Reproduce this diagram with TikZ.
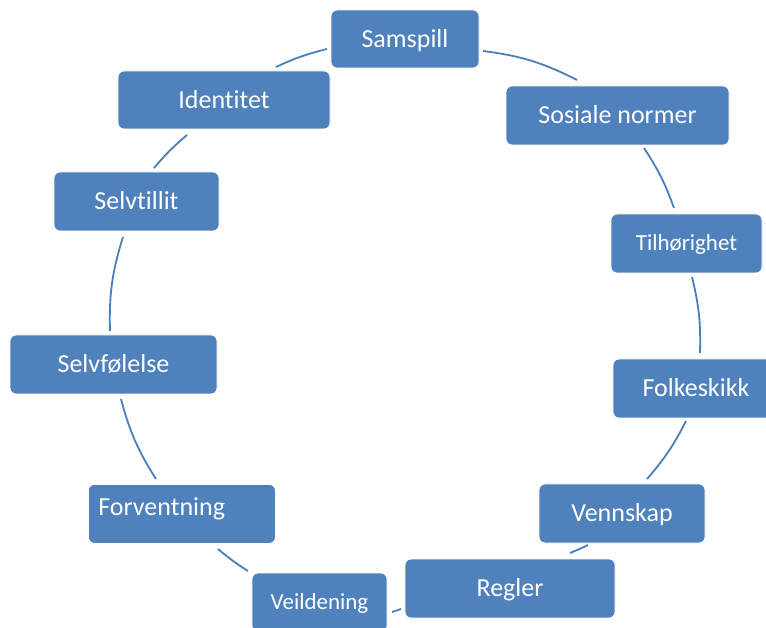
\documentclass[tikz,border=0pt]{standalone}
\usepackage{fontspec}
\setmainfont{Carlito}[Ligatures=CommonOff]
\definecolor{boxblue}{HTML}{4F81BD}
\definecolor{arcblue}{HTML}{4A7EBB}
\tikzset{
  cyclebox/.style={rectangle, rounded corners=6pt, fill=boxblue, draw=white, line width=0.8pt,
    text=white, inner sep=0pt, align=center, text depth=0pt},
  bigtext/.style={font=\fontsize{26}{30}\selectfont, text height=16.5pt},
  smalltext/.style={font=\fontsize{23}{27}\selectfont, text height=14.6pt},
  link/.style={draw=arcblue, line width=1.8pt}
}
\begin{document}
\begin{tikzpicture}[x=1pt,y=1pt]
\useasboundingbox (0,0) rectangle (766,627);
\clip (0,0) rectangle (766,627);
% boxes
\node[cyclebox, bigtext, minimum width=148pt, minimum height=58pt] (samspill) at (405,588) {Samspill};
\node[cyclebox, bigtext, minimum width=223pt, minimum height=59pt] (sosiale) at (617.5,511.5) {Sosiale normer};
\node[cyclebox, smalltext, minimum width=151pt, minimum height=59pt] (tilhorighet) at (686.5,383.5) {Tilhørighet};
\node[cyclebox, bigtext, minimum width=166pt, minimum height=59pt] (folkeskikk) at (696,238.5) {Folkeskikk};
\node[cyclebox, bigtext, minimum width=166pt, minimum height=59pt] (vennskap) at (622,113.5) {Vennskap};
\node[cyclebox, bigtext, minimum width=210pt, minimum height=59pt] (regler) at (510,38.5) {Regler};
\node[cyclebox, smalltext, minimum width=135pt, minimum height=59pt] (veildening) at (319.5,24.5) {Veildening};
\node[cyclebox, font=\fontsize{26}{30}\selectfont, anchor=north west, inner xsep=10pt, inner ysep=0pt,
  text width=167pt, align=left, text height=31pt, text depth=28pt] (forventning) at (88,143) {Forventning};
\node[cyclebox, bigtext, minimum width=207pt, minimum height=59pt] (selvfolelse) at (113.5,262.5) {Selvfølelse};
\node[cyclebox, bigtext, minimum width=165pt, minimum height=59pt] (selvtillit) at (136.5,425.5) {Selvtillit};
\node[cyclebox, bigtext, minimum width=212pt, minimum height=58pt] (identitet) at (224,527) {Identitet};
% connector end points
\coordinate (c1a) at (483,576); \coordinate (c1b) at (577,547);
\coordinate (c2a) at (644,479); \coordinate (c2b) at (674,419);
\coordinate (c3a) at (692,350); \coordinate (c3b) at (700,274);
\coordinate (c4a) at (686,206); \coordinate (c4b) at (647,148);
\coordinate (c5a) at (588,82);  \coordinate (c5b) at (570,74);
\coordinate (c6a) at (401,18);  \coordinate (c6b) at (392,15);
\coordinate (c7a) at (248,56);  \coordinate (c7b) at (218,78);
\coordinate (c8a) at (156,148); \coordinate (c8b) at (121,228);
\coordinate (c9a) at (110,296); \coordinate (c9b) at (123,390);
\coordinate (c10a) at (154,459); \coordinate (c10b) at (187,492);
\coordinate (c11a) at (276,560); \coordinate (c11b) at (327,578);
% connectors
\draw[link] (c1a) to[bend left=9.8] (c1b);
\draw[link] (c2a) to[bend left=6.6] (c2b);
\draw[link] (c3a) to[bend left=7.6] (c3b);
\draw[link] (c4a) to[bend left=6.9] (c4b);
\draw[link] (c5a) to[bend left=2] (c5b);
\draw[link] (c6a) to[bend left=1] (c6b);
\draw[link] (c7a) to[bend left=3.7] (c7b);
\draw[link] (c8a) to[bend left=8.7] (c8b);
\draw[link] (c9a) to[bend left=9.4] (c9b);
\draw[link] (c10a) to[bend left=4.6] (c10b);
\draw[link] (c11a) to[bend left=5.4] (c11b);
\end{tikzpicture}
\end{document}
